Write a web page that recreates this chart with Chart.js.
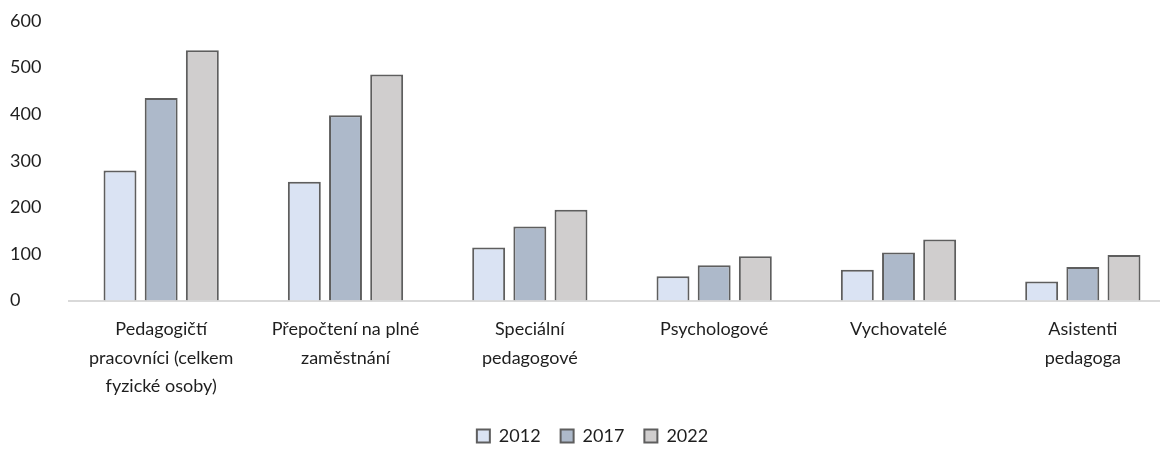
<!DOCTYPE html>
<html>
<head>
<meta charset="utf-8">
<script src="https://cdn.jsdelivr.net/npm/chart.js@4/dist/chart.umd.min.js"></script>
<style>
  html, body { margin: 0; padding: 0; background: #fff; overflow: hidden; }
  #wrap { width: 1175px; height: 455px; position: relative; }
</style>
</head>
<body>
<div id="wrap"><canvas id="myChart"></canvas></div>
<script>
// categories (multi-line labels as in the original)
const categories = [
  ["Pedagogičtí", "pracovníci (celkem", "fyzické osoby)"],
  ["Přepočtení na plné", "zaměstnání"],
  ["Speciální", "pedagogové"],
  ["Psychologové"],
  ["Vychovatelé"],
  ["Asistenti", "pedagoga"],
];

const years = ["2012", "2017", "2022"];

// values
const values2012 = [279, 255, 114, 52, 66, 41];
const values2017 = [435, 398, 159, 76, 103, 72];
const values2022 = [537, 485, 195, 95, 131, 98];

const yTicks = [0, 100, 200, 300, 400, 500, 600];

const fills = ["#dae3f3", "#adb9ca", "#d0cece"];
const edge = "#5e5e5e";

/*
 * dataset builder
 */
function makeSet(label, data, color) {
  return {
    label: label,
    data: data,
    backgroundColor: color,
    borderColor: edge,
    borderWidth: 2,
    borderSkipped: "bottom",
    barPercentage: 0.8,
    categoryPercentage: 0.67,
  };
}

const ctx = document.getElementById("myChart");
new Chart(ctx, {
  type: "bar",
  data: {
    labels: categories,
    datasets: [
      makeSet(years[0], values2012, fills[0]),
      makeSet(years[1], values2017, fills[1]),
      makeSet(years[2], values2022, fills[2]),
    ],
  },
  options: {
    responsive: true,
    maintainAspectRatio: false,
    animation: false,
    layout: {
      padding: { left: 10, top: 21, right: 0, bottom: 0 },
    },
    font: { family: "Lato" },
    scales: {
      x: {
        grid: { display: false },
        border: { color: "#d9d9d9", width: 2 },
        ticks: {
          color: "#1e1e1e",
          maxRotation: 0,
          autoSkip: false,
          padding: 6,
          font: { family: "Lato", size: 18, lineHeight: 1.6 },
        },
      },
      y: {
        min: 0,
        max: 600,
        afterFit: function (scale) {
          scale.width = 59;
        },
        afterBuildTicks: function (scale) {
          scale.ticks = yTicks.map((v) => ({ value: v }));
        },
        grid: { display: false },
        border: { display: false },
        ticks: {
          color: "#1e1e1e",
          crossAlign: "far",
          font: { family: "Lato", size: 18 },
        },
      },
    },
    plugins: {
      legend: {
        position: "bottom",
        labels: {
          color: "#1e1e1e",
          boxWidth: 13,
          boxHeight: 13,
          padding: 20,
          font: { family: "Lato", size: 18 },
        },
      },
      tooltip: { enabled: false },
    },
  },
});
</script>
</body>
</html>
